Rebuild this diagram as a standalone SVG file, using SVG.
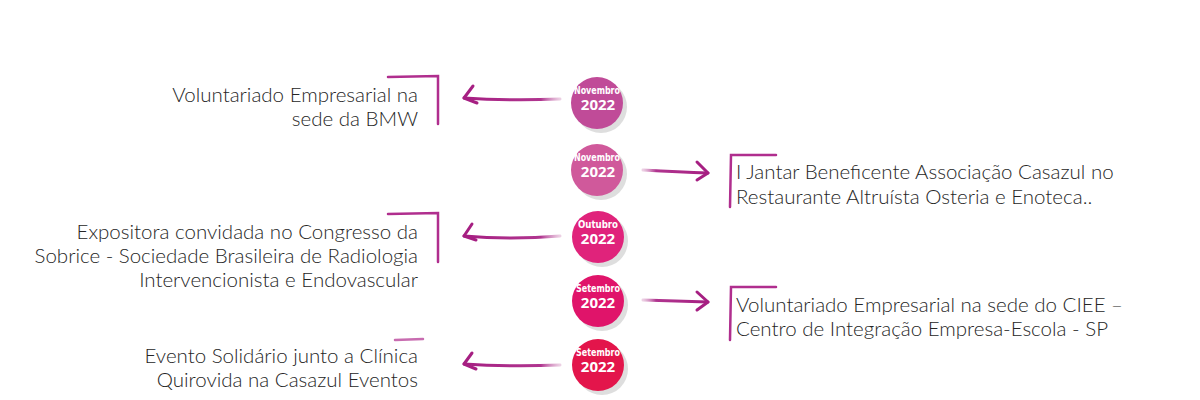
<svg xmlns="http://www.w3.org/2000/svg" width="1200" height="400" viewBox="0 0 1200 400">
<defs>
<style>
.t{font-family:Lato,"Liberation Sans",sans-serif;font-weight:300;font-size:20.5px;fill:#262626}
.l{text-anchor:end}
.m{font-family:"DejaVu Sans Condensed","Liberation Sans",sans-serif;font-weight:bold;font-size:10px;fill:#fff;text-anchor:middle}
.y{font-family:"Open Sans","Liberation Sans",sans-serif;font-weight:bold;font-size:15px;fill:#fff;text-anchor:middle}
.sh{fill:#dedede}
.br{fill:none;stroke:#b02e8e;stroke-width:2.5;stroke-linecap:round;stroke-linejoin:miter}
.ar{fill:none;stroke-width:3;stroke-linecap:round;stroke-linejoin:round}
</style>
<linearGradient id="gl" x1="0" y1="0" x2="1" y2="0">
<stop offset="0" stop-color="#a61f82"/><stop offset="0.8" stop-color="#b0358f"/><stop offset="1" stop-color="#d9a0c8" stop-opacity="0.5"/>
</linearGradient>
<linearGradient id="gr" x1="0" y1="0" x2="1" y2="0">
<stop offset="0" stop-color="#d9a0c8" stop-opacity="0.5"/><stop offset="0.2" stop-color="#b0358f"/><stop offset="1" stop-color="#a61f82"/>
</linearGradient>
</defs>

<g id="connectors">
<path class="ar" stroke="url(#gl)" d="M464,98 Q510,101 560,99"/>
<path class="ar" stroke="#a61f82" d="M473,86 L464,98 L477,103"/>
<path class="ar" stroke="url(#gr)" d="M643,170 Q680,172 708,173"/>
<path class="ar" stroke="#a61f82" d="M697,162 L708,173 L697,180"/>
<path class="ar" stroke="url(#gl)" d="M464,236 Q510,240 560,236"/>
<path class="ar" stroke="#a61f82" d="M472,224 L464,236 L476,240"/>
<path class="ar" stroke="url(#gr)" d="M643,300 Q680,301 708,302"/>
<path class="ar" stroke="#a61f82" d="M697,292 L708,302 L697,310"/>
<path class="ar" stroke="url(#gl)" d="M464,364 Q510,367 560,365"/>
<path class="ar" stroke="#a61f82" d="M472,353 L464,364 L476,369"/>
</g>

<g id="item1">
<circle class="sh" cx="601" cy="107" r="26"/>
<circle cx="597" cy="103" r="26" fill="#c04b98"/>
<text class="m" x="597" y="94" textLength="46" lengthAdjust="spacingAndGlyphs">Novembro</text>
<text class="y" x="598" y="110">2022</text>
<path class="br" d="M388,77 L438,76 L438,124"/>
<text class="t l" x="418" y="102">Voluntariado Empresarial na</text>
<text class="t l" x="418" y="126">sede da BMW</text>
</g>

<g id="item2">
<circle class="sh" cx="601" cy="174" r="26"/>
<circle cx="597" cy="170" r="26" fill="#d0599b"/>
<text class="m" x="597" y="161" textLength="46" lengthAdjust="spacingAndGlyphs">Novembro</text>
<text class="y" x="598" y="177">2022</text>
<path class="br" d="M776,155 L731,155 L730,207"/>
<text class="t" x="736" y="179">I Jantar Beneficente Associação Casazul no</text>
<text class="t" x="736" y="204">Restaurante Altruísta Osteria e Enoteca..</text>
</g>

<g id="item3">
<circle class="sh" cx="602" cy="241" r="26"/>
<circle cx="598" cy="237" r="26" fill="#e0237b"/>
<text class="m" x="598" y="228" textLength="40" lengthAdjust="spacingAndGlyphs">Outubro</text>
<text class="y" x="598" y="244">2022</text>
<path class="br" d="M388,214 L438,213 L438,262"/>
<text class="t l" x="418" y="239">Expositora convidada no Congresso da</text>
<text class="t l" x="418" y="263">Sobrice - Sociedade Brasileira de Radiologia</text>
<text class="t l" x="418" y="287">Intervencionista e Endovascular</text>
</g>

<g id="item4">
<circle class="sh" cx="602" cy="305" r="26"/>
<circle cx="598" cy="301" r="26" fill="#e0146a"/>
<text class="m" x="598" y="292" textLength="44" lengthAdjust="spacingAndGlyphs">Setembro</text>
<text class="y" x="598" y="308">2022</text>
<path class="br" d="M776,287 L731,287 L730,340"/>
<text class="t" x="736" y="312">Voluntariado Empresarial na sede do CIEE –</text>
<text class="t" x="736" y="336">Centro de Integração Empresa-Escola - SP</text>
</g>

<g id="item5">
<circle class="sh" cx="602" cy="369" r="26"/>
<circle cx="598" cy="365" r="26" fill="#e3154b"/>
<text class="m" x="598" y="356" textLength="44" lengthAdjust="spacingAndGlyphs">Setembro</text>
<text class="y" x="598" y="372">2022</text>
<path class="br" d="M395,340 L423,339" stroke-opacity="0.7"/>
<text class="t l" x="418" y="363">Evento Solidário junto a Clínica</text>
<text class="t l" x="418" y="387">Quirovida na Casazul Eventos</text>
</g>
</svg>
